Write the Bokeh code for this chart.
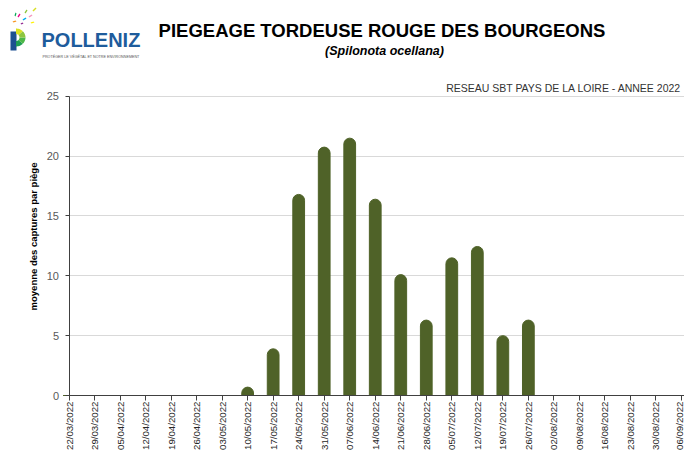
import math
import numpy as np
from bokeh.plotting import figure
from bokeh.models import (ColumnDataSource, Range1d, FixedTicker, Label,
                          BoxAnnotation, PolyAnnotation)
from bokeh.embed import file_html
from bokeh.resources import INLINE

# ---- data ----
dates = ["22/03/2022", "29/03/2022", "05/04/2022", "12/04/2022", "19/04/2022",
         "26/04/2022", "03/05/2022", "10/05/2022", "17/05/2022", "24/05/2022",
         "31/05/2022", "07/06/2022", "14/06/2022", "21/06/2022", "28/06/2022",
         "05/07/2022", "12/07/2022", "19/07/2022", "26/07/2022", "02/08/2022",
         "09/08/2022", "16/08/2022", "23/08/2022", "30/08/2022", "06/09/2022"]
captures = [0, 0, 0, 0, 0, 0, 0, 0.7, 3.9, 16.8, 20.75, 21.5, 16.4, 10.1, 6.3,
            11.5, 12.45, 5.0, 6.3, 0, 0, 0, 0, 0, 0]
y_ticks = [0, 5, 10, 15, 20, 25]
grid_ticks = [5, 10, 15, 20, 25]

title_text = "PIEGEAGE TORDEUSE ROUGE DES BOURGEONS"
subtitle_text = "(Spilonota ocellana)"
network_text = "RESEAU SBT PAYS DE LA LOIRE - ANNEE 2022"
y_label_text = "moyenne des captures par piège"
logo_text = "POLLENIZ"
logo_tagline = "PROTÉGER LE VÉGÉTAL ET NOTRE ENVIRONNEMENT"

FONT = "Liberation Sans"
BAR = "#4F6228"
W, H = 684, 450

idx = list(range(len(dates)))
src = ColumnDataSource(dict(idx=idx, v=captures))

# screen mapping: x=0 at px 68.5, y=0 at px 395
X0, PXU = 68.5, 25.52
Y0, PYU = 395.0, 11.97
XMIN, XMAX = -X0 / PXU, (W - X0) / PXU
YMIN, YMAX = -(H - Y0) / PYU, Y0 / PYU

def dx(px):
    return (px - X0) / PXU

def dy(py):
    return (Y0 - py) / PYU

p = figure(width=W, height=H, output_backend="svg", toolbar_location=None,
           x_range=Range1d(XMIN, XMAX), y_range=Range1d(YMIN, YMAX),
           min_border_left=0, min_border_right=0, min_border_top=0,
           min_border_bottom=0)
p.title.visible = False
p.outline_line_color = None
p.background_fill_color = "white"
p.border_fill_color = "white"

p.vbar(x="idx", top="v", width=0.46, source=src, fill_color=BAR,
       line_color=BAR, border_radius=(6, 6, 0, 0))

# x axis
p.xaxis.fixed_location = 0
p.xaxis.bounds = (0, XMAX)
p.xaxis.ticker = FixedTicker(ticks=idx)
p.xaxis.major_label_overrides = {i: d for i, d in zip(idx, dates)}
p.xaxis.major_label_orientation = math.pi / 2
p.xaxis.major_label_text_font = FONT
p.xaxis.major_label_text_font_size = "9.7px"
p.xaxis.major_label_text_color = "#262626"
p.xaxis.major_label_standoff = 1
p.xaxis.major_tick_out = 5
p.xaxis.major_tick_in = 0
p.xaxis.minor_tick_out = 0
p.xaxis.minor_tick_in = 0
p.xaxis.axis_line_color = "#404040"
p.xaxis.major_tick_line_color = "#404040"
p.xgrid.visible = False

# y axis
p.yaxis.fixed_location = 0
p.yaxis.bounds = (0, 25)
p.yaxis.ticker = FixedTicker(ticks=y_ticks)
p.yaxis.minor_tick_out = 0
p.yaxis.minor_tick_in = 0
p.yaxis.major_tick_out = 4
p.yaxis.major_tick_in = 0
p.yaxis.major_label_text_font = FONT
p.yaxis.major_label_text_font_size = "11px"
p.yaxis.major_label_text_color = "#595959"
p.yaxis.major_label_standoff = 6
p.yaxis.axis_line_color = "#404040"
p.yaxis.major_tick_line_color = "#404040"
p.ygrid.ticker = FixedTicker(ticks=grid_ticks)
p.ygrid.grid_line_color = "#D9D9D9"
p.ygrid.cross_bounds = (0, XMAX)

# y axis title
p.add_layout(Label(x=dx(33), y=dy(236), text=y_label_text, angle=math.pi / 2,
                   text_align="center", text_baseline="middle",
                   text_font=FONT, text_font_size="9.5px",
                   text_font_style="bold", text_color="#000000"))

# titles
p.add_layout(Label(x=dx(381.5), y=dy(29.5), text=title_text, text_align="center",
                   text_baseline="middle", text_font=FONT,
                   text_font_size="18.5px", text_font_style="bold",
                   text_color="#000000"))
p.add_layout(Label(x=dx(384), y=dy(50.5), text=subtitle_text, text_align="center",
                   text_baseline="middle", text_font=FONT,
                   text_font_size="12.5px", text_font_style="bold italic",
                   text_color="#000000"))
p.add_layout(Label(x=dx(681), y=dy(87.5), text=network_text, text_align="right",
                   text_baseline="middle", text_font=FONT,
                   text_font_size="10.5px", text_color="#333333"))

# logo
p.add_layout(Label(x=dx(41), y=dy(39), text=logo_text, text_align="left",
                   text_baseline="middle", text_font=FONT,
                   text_font_size="20px", text_font_style="bold",
                   text_color="#1E5C9C"))
p.add_layout(Label(x=dx(42), y=dy(56.5), text=logo_tagline, text_align="left",
                   text_baseline="middle", text_font=FONT,
                   text_font_size="3.7px", text_color="#555555"))
p.add_layout(BoxAnnotation(left=dx(10), right=dx(16), top=dy(31), bottom=dy(50),
                           fill_color="#1D4F91", fill_alpha=1, line_color=None))
cx, cy = 15.5, 37.0
segs = [(-90, -45, "#1F9D55"), (-45, 0, "#4DB848"), (0, 45, "#8DC63F"),
        (45, 90, "#D7DF23")]
for a0, a1, col in segs:
    th = np.radians(np.linspace(a0, a1, 10))
    xs = list(cx + 9.5 * np.cos(th)) + list(cx + 3.5 * np.cos(th[::-1]))
    ys = list(cy - 9.0 * np.sin(th)) + list(cy - 3.5 * np.sin(th[::-1]))
    p.add_layout(PolyAnnotation(xs=[dx(v) for v in xs], ys=[dy(v) for v in ys],
                                fill_color=col, fill_alpha=1, line_color=None))
# confetti
confetti = [((12, 21), (15, 20), "#F7941D"), ((17, 16), (19, 13), "#EC008C"),
            ((22, 19), (25, 17), "#00AEEF"), ((24, 12), (26, 9), "#8DC63F"),
            ((28, 16), (31, 14), "#F49AC1"), ((30, 22), (33, 21), "#FFF200"),
            ((32, 10), (35, 7), "#D7DF23"), ((20, 23), (22, 22), "#92278F"),
            ((14, 15), (15, 12), "#00A651")]
for (x1, y1), (x2, y2), col in confetti:
    xs = [x1, x2, x2 + 1, x1 + 1]
    ys = [y1, y2, y2 + 1, y1 + 1]
    p.add_layout(PolyAnnotation(xs=[dx(v) for v in xs], ys=[dy(v) for v in ys],
                                fill_color=col, fill_alpha=1, line_color=None))

open("out.html", "w").write(file_html(p, INLINE))
